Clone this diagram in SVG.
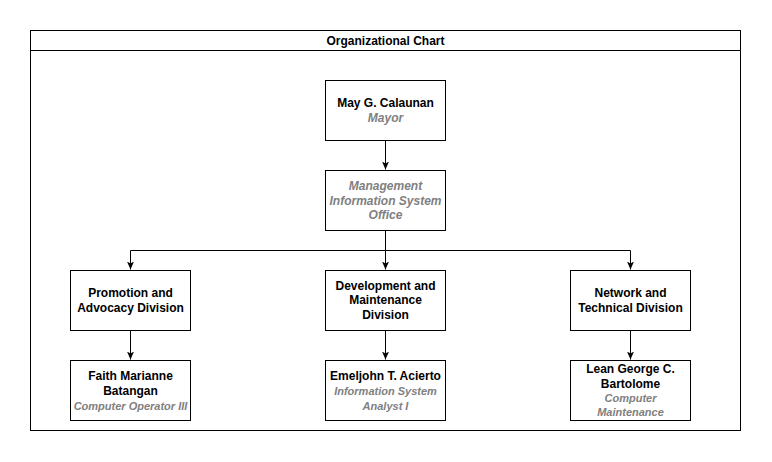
<svg xmlns="http://www.w3.org/2000/svg" width="772" height="462" viewBox="0 0 772 462">
<style>
.box{fill:#ffffff;stroke:#000000;stroke-width:1}
.t{font-family:"Liberation Sans",Arial,sans-serif;font-size:12px;font-weight:bold;fill:#000000;text-anchor:middle}
.r{font-family:"Liberation Sans",Arial,sans-serif;font-size:11px;font-weight:bold;font-style:italic;fill:#808080;text-anchor:middle}
.r12{font-size:12px}
.c{fill:none;stroke:#000000;stroke-width:1}
</style>
<defs>
<marker id="arr" viewBox="0 0 8 8" refX="8" refY="4" markerWidth="8" markerHeight="8" markerUnits="userSpaceOnUse" orient="auto">
<path d="M0,0.5 L8,4 L0,7.5 L2,4 Z" fill="#000000"/>
</marker>
</defs>
<rect width="772" height="462" fill="#ffffff"/>
<g id="container">
<rect class="box" x="30.5" y="30.5" width="710" height="400"/>
<line class="c" x1="30.5" y1="50.5" x2="740.5" y2="50.5"/>
<text class="t" x="385.5" y="44.5">Organizational Chart</text>
</g>
<g id="connectors">
<path class="c" d="M385.5,140.5 V169.5" marker-end="url(#arr)"/>
<path class="c" d="M385.5,230.5 V250.5 H130.5 V269.5" marker-end="url(#arr)"/>
<path class="c" d="M385.5,250.5 V269.5" marker-end="url(#arr)"/>
<path class="c" d="M385.5,250.5 H630.5 V269.5" marker-end="url(#arr)"/>
<path class="c" d="M130.5,330.5 V359.5" marker-end="url(#arr)"/>
<path class="c" d="M385.5,330.5 V359.5" marker-end="url(#arr)"/>
<path class="c" d="M630.5,330.5 V359.5" marker-end="url(#arr)"/>
</g>
<g id="mayor">
<rect class="box" x="325.5" y="80.5" width="120" height="60"/>
<text class="t" x="385.5" y="107">May G. Calaunan</text>
<text class="r r12" x="385.5" y="122">Mayor</text>
</g>
<g id="mis">
<rect class="box" x="325.5" y="170.5" width="120" height="60"/>
<text class="r r12" x="385.5" y="190">Management</text>
<text class="r r12" x="385.5" y="204.5">Information System</text>
<text class="r r12" x="385.5" y="219">Office</text>
</g>
<g id="promotion">
<rect class="box" x="70.5" y="270.5" width="120" height="60"/>
<text class="t" x="130.5" y="297">Promotion and</text>
<text class="t" x="130.5" y="311.5">Advocacy Division</text>
</g>
<g id="development">
<rect class="box" x="325.5" y="270.5" width="120" height="60"/>
<text class="t" x="385.5" y="289.5">Development and</text>
<text class="t" x="385.5" y="304">Maintenance</text>
<text class="t" x="385.5" y="318.5">Division</text>
</g>
<g id="network">
<rect class="box" x="570.5" y="270.5" width="120" height="60"/>
<text class="t" x="630.5" y="297">Network and</text>
<text class="t" x="630.5" y="311.5">Technical Division</text>
</g>
<g id="faith">
<rect class="box" x="70.5" y="360.5" width="120" height="60"/>
<text class="t" x="130.5" y="380">Faith Marianne</text>
<text class="t" x="130.5" y="394.5">Batangan</text>
<text class="r" x="130.5" y="409.5">Computer Operator III</text>
</g>
<g id="emeljohn">
<rect class="box" x="325.5" y="360.5" width="120" height="60"/>
<text class="t" x="385.5" y="380">Emeljohn T. Acierto</text>
<text class="r" x="385.5" y="395">Information System</text>
<text class="r" x="385.5" y="410">Analyst I</text>
</g>
<g id="lean">
<rect class="box" x="570.5" y="360.5" width="120" height="60"/>
<text class="t" x="630.5" y="373">Lean George C.</text>
<text class="t" x="630.5" y="387.5">Bartolome</text>
<text class="r" x="630.5" y="402">Computer</text>
<text class="r" x="630.5" y="416">Maintenance</text>
</g>
</svg>
